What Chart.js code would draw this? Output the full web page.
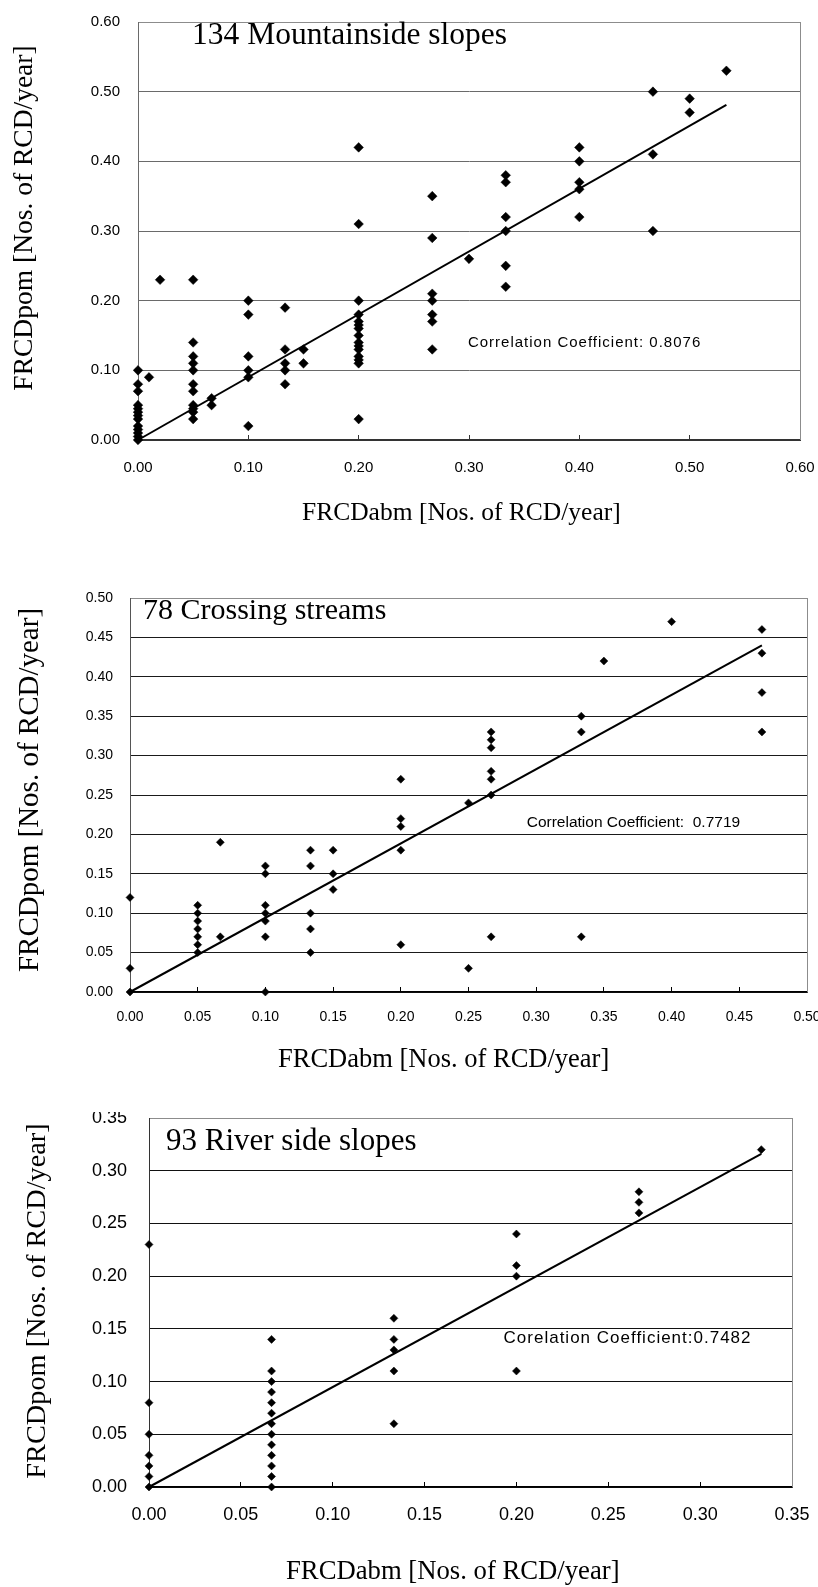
<!DOCTYPE html>
<html>
<head>
<meta charset="utf-8">
<script src="https://cdn.jsdelivr.net/npm/chart.js@4.4.1/dist/chart.umd.min.js"></script>
<style>
  html, body { margin: 0; padding: 0; background: #fff; }
  body { width: 818px; height: 1587px; position: relative; overflow: hidden; }
  canvas { position: absolute; left: 0; }
</style>
</head>
<body>
<canvas id="c1" width="818" height="540" style="top:0px"></canvas>
<canvas id="c2" width="818" height="545" style="top:540px"></canvas>
<canvas id="c3" width="818" height="475" style="top:1112px"></canvas>
<script>
// --- DATA ---
// 134 Mountainside slopes
const mountX = [0,0,0,0,0,0,0,0,0,0,0,0,0, 0.01, 0.02,
  0.05,0.05,0.05,0.05,0.05,0.05,0.05,0.05,0.05,0.05,0.05, 0.0667,0.0667,
  0.1,0.1,0.1,0.1,0.1,0.1, 0.1333,0.1333,0.1333,0.1333,0.1333, 0.15,0.15,
  0.2,0.2,0.2,0.2,0.2,0.2,0.2,0.2,0.2,0.2,0.2,0.2,0.2,0.2,0.2,
  0.2667,0.2667,0.2667,0.2667,0.2667,0.2667,0.2667, 0.3,
  0.3333,0.3333,0.3333,0.3333,0.3333,0.3333, 0.4,0.4,0.4,0.4,0.4,
  0.4667,0.4667,0.4667, 0.5,0.5, 0.5333];
const mountY = [0.10,0.08,0.07,0.05,0.045,0.04,0.035,0.03,0.02,0.015,0.01,0.005,0, 0.09, 0.23,
  0.23,0.14,0.12,0.11,0.10,0.08,0.07,0.05,0.045,0.04,0.03, 0.06,0.05,
  0.20,0.18,0.12,0.10,0.09,0.02, 0.19,0.13,0.11,0.10,0.08, 0.13,0.11,
  0.42,0.31,0.20,0.18,0.17,0.165,0.16,0.15,0.14,0.135,0.13,0.12,0.115,0.11,0.03,
  0.35,0.29,0.21,0.20,0.18,0.17,0.13, 0.26,
  0.38,0.37,0.32,0.30,0.25,0.22, 0.42,0.40,0.37,0.36,0.32,
  0.50,0.41,0.30, 0.49,0.47, 0.53];
const mountTrendX = [0, 0.5333];
const mountTrendY = [0, 0.481];
const mountTicks = ['0.00','0.10','0.20','0.30','0.40','0.50','0.60'];

// 78 Crossing streams
const streamX = [0,0,0, 0.05,0.05,0.05,0.05,0.05,0.05,0.05, 0.0667,0.0667,
  0.1,0.1,0.1,0.1,0.1,0.1,0.1, 0.1333,0.1333,0.1333,0.1333,0.1333, 0.15,0.15,0.15,
  0.2,0.2,0.2,0.2,0.2, 0.25,0.25, 0.2667,0.2667,0.2667,0.2667,0.2667,0.2667,0.2667,
  0.3333,0.3333,0.3333, 0.35, 0.4, 0.4667,0.4667,0.4667,0.4667];
const streamY = [0.12,0.03,0, 0.11,0.10,0.09,0.08,0.07,0.06,0.05, 0.19,0.07,
  0.16,0.15,0.11,0.10,0.09,0.07,0, 0.18,0.16,0.10,0.08,0.05, 0.18,0.15,0.13,
  0.27,0.22,0.21,0.18,0.06, 0.24,0.03, 0.33,0.32,0.31,0.28,0.27,0.25,0.07,
  0.35,0.33,0.07, 0.42, 0.47, 0.46,0.43,0.38,0.33];
const streamTrendX = [0, 0.4667];
const streamTrendY = [0, 0.44];
const streamTicks = ['0.00','0.05','0.10','0.15','0.20','0.25','0.30','0.35','0.40','0.45','0.50'];

// 93 River side slopes
const riverX = [0,0,0,0,0,0,0,
  0.0667,0.0667,0.0667,0.0667,0.0667,0.0667,0.0667,0.0667,0.0667,0.0667,0.0667,0.0667,0.0667,
  0.1333,0.1333,0.1333,0.1333,0.1333, 0.2,0.2,0.2,0.2, 0.2667,0.2667,0.2667, 0.3333];
const riverY = [0.23,0.08,0.05,0.03,0.02,0.01,0,
  0.14,0.11,0.10,0.09,0.08,0.07,0.06,0.05,0.04,0.03,0.02,0.01,0,
  0.16,0.14,0.13,0.11,0.06, 0.24,0.21,0.20,0.11, 0.28,0.27,0.26, 0.32];
const riverTrendX = [0, 0.3333];
const riverTrendY = [0, 0.316];
const riverTicks = ['0.00','0.05','0.10','0.15','0.20','0.25','0.30','0.35'];

const xTitle = 'FRCDabm [Nos. of RCD/year]';
const yTitle = 'FRCDpom [Nos. of RCD/year]';

// --- ÇİZİM ---
Chart.defaults.font.family = "'Liberation Sans', Arial, sans-serif";
const serif = "'Liberation Serif', 'Times New Roman', serif";

function makeChart(id, s) {
  const canvas = document.getElementById(id);
  const H = canvas.height;
  const points = s.xs.map((x, i) => ({ x: x, y: s.ys[i] }));
  const trend = s.trendX.map((x, i) => ({ x: x, y: s.trendY[i] }));
  const xMax = parseFloat(s.xTicks[s.xTicks.length - 1]);
  const yMax = parseFloat(s.yTicks[s.yTicks.length - 1]);

  // başlıklar, eksen adları, korelasyon yazısı
  const textPlugin = {
    id: 'texts' + id,
    afterDraw(chart) {
      const ctx = chart.ctx, a = chart.chartArea;
      ctx.save();
      ctx.strokeStyle = '#8c8c8c';
      ctx.lineWidth = 1;
      ctx.beginPath();
      ctx.moveTo(a.right + 0.5, a.top);
      ctx.lineTo(a.right + 0.5, a.bottom);
      ctx.stroke();

      ctx.fillStyle = '#000';
      ctx.textAlign = 'left';
      ctx.textBaseline = 'alphabetic';
      ctx.font = s.titleSize + 'px ' + serif;
      ctx.fillText(s.title, s.titlePos[0], s.titlePos[1]);

      ctx.font = s.xTitleSize + 'px ' + serif;
      ctx.fillText(xTitle, s.xTitlePos[0], s.xTitlePos[1]);

      ctx.save();
      ctx.font = s.yTitleSize + 'px ' + serif;
      ctx.translate(s.yTitlePos[0], s.yTitlePos[1]);
      ctx.rotate(-Math.PI / 2);
      ctx.textAlign = 'center';
      ctx.fillText(yTitle, 0, 0);
      ctx.restore();

      ctx.font = s.corrFont;
      if ('letterSpacing' in ctx) ctx.letterSpacing = s.corrSpacing;
      ctx.textBaseline = 'middle';
      ctx.fillText(s.corr, chart.scales.x.getPixelForValue(s.corrAt[0]),
                   chart.scales.y.getPixelForValue(s.corrAt[1]));
      ctx.restore();
    }
  };

  return new Chart(canvas, {
    type: 'scatter',
    data: {
      datasets: [
        { data: points, pointStyle: 'rectRot', pointRadius: s.dot, backgroundColor: '#000',
          borderColor: '#000', borderWidth: 0.5, clip: false, order: 2 },
        { data: trend, showLine: true, pointRadius: 0, borderColor: '#000', borderWidth: 2,
          clip: false, order: 1 }
      ]
    },
    options: {
      responsive: false,
      animation: false,
      events: [],
      layout: { padding: { left: 0, top: s.plot.top, right: 818 - s.plot.right, bottom: 0 } },
      plugins: { legend: { display: false }, tooltip: { enabled: false } },
      scales: {
        x: {
          type: 'linear', min: 0, max: xMax,
          afterBuildTicks: sc => { sc.ticks = s.xTicks.map(t => ({ value: parseFloat(t) })); },
          afterFit: sc => { sc.height = H - s.plot.bottom; sc.paddingLeft = 0; sc.paddingRight = 0; },
          ticks: { callback: (v, i) => s.xTicks[i], font: { size: s.tickSize }, color: '#000',
                   padding: s.xPad, maxRotation: 0, autoSkip: false },
          grid: { drawOnChartArea: false, drawTicks: true, tickLength: -5, color: s.axisColor },
          border: { color: s.axisColor, width: s.axisWidth }
        },
        y: {
          type: 'linear', min: 0, max: yMax,
          afterBuildTicks: sc => { sc.ticks = s.yTicks.map(t => ({ value: parseFloat(t) })); },
          afterFit: sc => { sc.width = s.plot.left; sc.paddingTop = 0; sc.paddingBottom = 0; },
          ticks: { callback: (v, i) => s.yTicks[i], font: { size: s.tickSize }, color: '#000',
                   padding: s.yPad, autoSkip: false },
          grid: { drawTicks: false, lineWidth: 1,
                  color: c => (c.tick && c.tick.value === yMax) ? '#8c8c8c' : s.gridColor },
          border: { color: s.leftColor, width: 1 }
        }
      }
    },
    plugins: [textPlugin]
  });
}

makeChart('c1', {
  xs: mountX, ys: mountY, trendX: mountTrendX, trendY: mountTrendY,
  xTicks: mountTicks, yTicks: mountTicks,
  title: '134 Mountainside slopes', titlePos: [192, 44], titleSize: 31.5,
  xTitlePos: [302, 520], xTitleSize: 25.5, yTitlePos: [32, 218], yTitleSize: 27.5,
  corr: 'Correlation Coefficient: 0.8076', corrAt: [0.299, 0.14],
  corrFont: "15px 'Liberation Sans', Arial, sans-serif", corrSpacing: '1px',
  plot: { left: 138, top: 22, right: 800, bottom: 440 },
  tickSize: 15, xPad: 24, yPad: 18, dot: 4.8,
  gridColor: '#6a6a6a', leftColor: '#6a6a6a', axisColor: '#333', axisWidth: 2
});

makeChart('c2', {
  xs: streamX, ys: streamY, trendX: streamTrendX, trendY: streamTrendY,
  xTicks: streamTicks, yTicks: streamTicks,
  title: '78 Crossing streams', titlePos: [143, 79], titleSize: 30,
  xTitlePos: [278, 527], xTitleSize: 26.5, yTitlePos: [38, 250], yTitleSize: 29,
  corr: 'Correlation Coefficient:  0.7719', corrAt: [0.293, 0.2145],
  corrFont: "15.5px 'Liberation Sans', Arial, sans-serif", corrSpacing: '0px',
  plot: { left: 130, top: 58, right: 807, bottom: 452 },
  tickSize: 14, xPad: 22, yPad: 17, dot: 4,
  gridColor: '#1a1a1a', leftColor: '#555', axisColor: '#000', axisWidth: 1.5
});

makeChart('c3', {
  xs: riverX, ys: riverY, trendX: riverTrendX, trendY: riverTrendY,
  xTicks: riverTicks, yTicks: riverTicks,
  title: '93 River side slopes', titlePos: [166, 38], titleSize: 31,
  xTitlePos: [286, 467], xTitleSize: 26.7, yTitlePos: [45, 189], yTitleSize: 28.3,
  corr: 'Corelation Coefficient:0.7482', corrAt: [0.193, 0.1414],
  corrFont: "17px 'Liberation Sans', Arial, sans-serif", corrSpacing: '1px',
  plot: { left: 149, top: 6, right: 792, bottom: 375 },
  tickSize: 18, xPad: 22, yPad: 22, dot: 4,
  gridColor: '#111', leftColor: '#333', axisColor: '#000', axisWidth: 1.5
});
</script>
</body>
</html>
